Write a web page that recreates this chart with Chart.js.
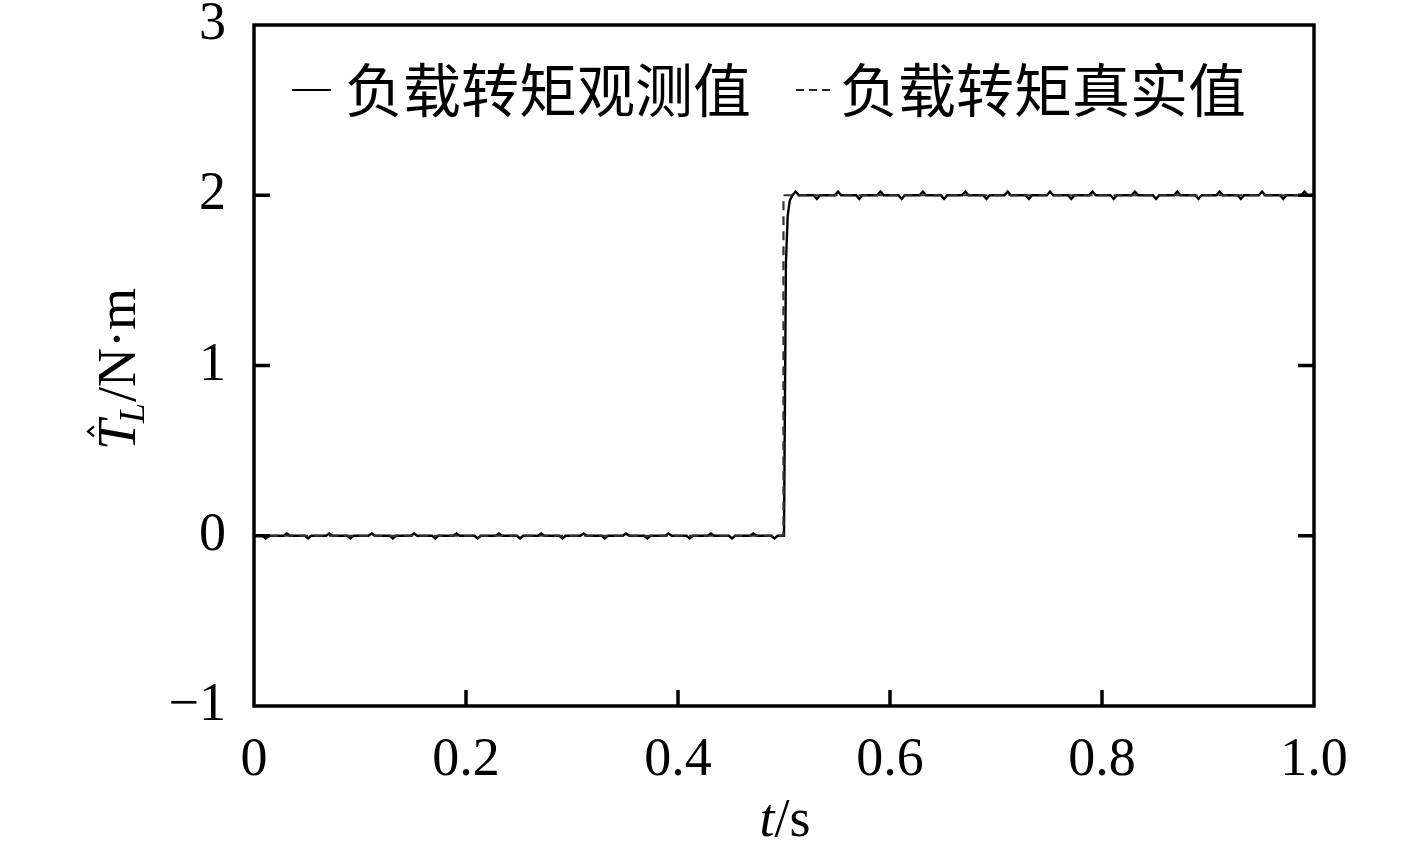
<!DOCTYPE html>
<html>
<head>
<meta charset="utf-8">
<script src="https://cdn.jsdelivr.net/npm/chart.js@4.4.1/dist/chart.umd.min.js"></script>
<style>
  html, body { margin: 0; padding: 0; background: #fff; }
  canvas { display: block; }
</style>
</head>
<body>
<canvas id="c" width="1417" height="857"></canvas>
<script>
const obsTime = [
  0,
  0.008, 0.011, 0.014, 0.028, 0.031, 0.034,
  0.048, 0.051, 0.054, 0.068, 0.071, 0.074,
  0.088, 0.091, 0.094, 0.108, 0.111, 0.114,
  0.128, 0.131, 0.134, 0.148, 0.151, 0.154,
  0.168, 0.171, 0.174, 0.188, 0.191, 0.194,
  0.208, 0.211, 0.214, 0.228, 0.231, 0.234,
  0.248, 0.251, 0.254, 0.268, 0.271, 0.274,
  0.288, 0.291, 0.294, 0.308, 0.311, 0.314,
  0.328, 0.331, 0.334, 0.348, 0.351, 0.354,
  0.368, 0.371, 0.374, 0.388, 0.391, 0.394,
  0.408, 0.411, 0.414, 0.428, 0.431, 0.434,
  0.448, 0.451, 0.454, 0.468, 0.471, 0.474,
  0.488, 0.491, 0.494, 0.500,
  0.5018, 0.5035, 0.5055, 0.508, 0.511, 0.514,
  0.528, 0.531, 0.534, 0.548, 0.551, 0.554,
  0.568, 0.571, 0.574, 0.588, 0.591, 0.594,
  0.608, 0.611, 0.614, 0.628, 0.631, 0.634,
  0.648, 0.651, 0.654, 0.668, 0.671, 0.674,
  0.688, 0.691, 0.694, 0.708, 0.711, 0.714,
  0.728, 0.731, 0.734, 0.748, 0.751, 0.754,
  0.768, 0.771, 0.774, 0.788, 0.791, 0.794,
  0.808, 0.811, 0.814, 0.828, 0.831, 0.834,
  0.848, 0.851, 0.854, 0.868, 0.871, 0.874,
  0.888, 0.891, 0.894, 0.908, 0.911, 0.914,
  0.928, 0.931, 0.934, 0.948, 0.951, 0.954,
  0.968, 0.971, 0.974, 0.988, 0.991, 0.994,
  1.0
];
const obsTorque = [
  0,
  0, -0.016, 0, 0, 0.013, 0,
  0, -0.016, 0, 0, 0.013, 0,
  0, -0.016, 0, 0, 0.013, 0,
  0, -0.016, 0, 0, 0.013, 0,
  0, -0.016, 0, 0, 0.013, 0,
  0, -0.016, 0, 0, 0.013, 0,
  0, -0.016, 0, 0, 0.013, 0,
  0, -0.016, 0, 0, 0.013, 0,
  0, -0.016, 0, 0, 0.013, 0,
  0, -0.016, 0, 0, 0.013, 0,
  0, -0.016, 0, 0, 0.013, 0,
  0, -0.016, 0, 0, 0.013, 0,
  0, -0.016, 0, 0,
  1.6, 1.88, 1.97, 2.0, 2.022, 2.0,
  2, 1.978, 2, 2, 2.022, 2,
  2, 1.978, 2, 2, 2.022, 2,
  2, 1.978, 2, 2, 2.022, 2,
  2, 1.978, 2, 2, 2.022, 2,
  2, 1.978, 2, 2, 2.022, 2,
  2, 1.978, 2, 2, 2.022, 2,
  2, 1.978, 2, 2, 2.022, 2,
  2, 1.978, 2, 2, 2.022, 2,
  2, 1.978, 2, 2, 2.022, 2,
  2, 1.978, 2, 2, 2.022, 2,
  2, 1.978, 2, 2, 2.022, 2,
  2, 1.978, 2, 2, 2.022, 2,
  2
];
// true load torque (dashed)
const refTime = [0, 0.4995, 0.4995, 1.0];
const refTorque = [0, 0, 2, 2];

const xTicks = [0, 0.2, 0.4, 0.6, 0.8, 1.0];
const yTicks = [-1, 0, 1, 2, 3];
const seriesNames = ['负载转矩观测值', '负载转矩真实值'];

const serif = '"Liberation Serif", "Times New Roman", serif';
const cjk = '"Noto Sans CJK SC", sans-serif';
const fs = 54;

function toPoints(xs, ys) {
  return xs.map((t, i) => ({ x: t, y: ys[i] }));
}

function line(ctx, x1, y1, x2, y2) {
  ctx.beginPath();
  ctx.moveTo(x1, y1);
  ctx.lineTo(x2, y2);
  ctx.stroke();
}

// frame, inward ticks, axis titles and legend
const decorPlugin = {
  id: 'decor',
  afterDraw(chart) {
    const ctx = chart.ctx;
    const a = chart.chartArea;
    const xs = chart.scales.x, ys = chart.scales.y;
    ctx.save();
    ctx.strokeStyle = '#000';
    ctx.lineWidth = 3.5;
    xTicks.forEach(v => {
      if (v <= 0 || v >= 1) return;
      const px = xs.getPixelForValue(v);
      line(ctx, px, a.bottom, px, a.bottom - 16);
    });
    yTicks.forEach(v => {
      if (v <= -1 || v >= 3) return;
      const py = ys.getPixelForValue(v);
      line(ctx, a.left, py, a.left + 16, py);
      line(ctx, a.right, py, a.right - 16, py);
    });
    ctx.strokeRect(a.left, a.top, a.right - a.left, a.bottom - a.top);

    ctx.fillStyle = '#000';
    ctx.textBaseline = 'alphabetic';

    // x title: t/s
    ctx.font = 'italic ' + fs + 'px ' + serif;
    const wt = ctx.measureText('t').width;
    ctx.font = fs + 'px ' + serif;
    const ws = ctx.measureText('/s').width;
    const sx = 785 - (wt + ws) / 2;
    ctx.font = 'italic ' + fs + 'px ' + serif;
    ctx.fillText('t', sx, 836);
    ctx.font = fs + 'px ' + serif;
    ctx.fillText('/s', sx + wt, 836);

    // y title: T-hat_L / N·m, rotated
    ctx.save();
    ctx.translate(135, 366);
    ctx.rotate(-Math.PI / 2);
    let rx = -84;
    ctx.font = 'italic ' + fs + 'px ' + serif;
    ctx.fillText('T', rx, 0);
    const wT = ctx.measureText('T').width;
    // hat over T
    const hc = rx + wT * 0.62;
    ctx.lineWidth = 2.2;
    ctx.beginPath();
    ctx.moveTo(hc - 5, -41);
    ctx.lineTo(hc, -47);
    ctx.lineTo(hc + 5, -41);
    ctx.stroke();
    rx += wT - 3;
    ctx.font = 'italic 36px ' + serif;
    ctx.fillText('L', rx, 9);
    rx += ctx.measureText('L').width + 1;
    ctx.font = fs + 'px ' + serif;
    ctx.fillText('/N\u00B7m', rx, 0);
    ctx.restore();

    // legend
    ctx.lineWidth = 2;
    line(ctx, 292, 90, 331, 90);
    ctx.setLineDash([8, 5]);
    ctx.strokeStyle = '#222';
    line(ctx, 796, 90, 834, 90);
    ctx.setLineDash([]);
    ctx.font = '58px ' + cjk;
    ctx.textBaseline = 'middle';
    ctx.fillText(seriesNames[0], 345, 90);
    ctx.fillText(seriesNames[1], 840, 90);
    ctx.restore();
  }
};

new Chart(document.getElementById('c'), {
  type: 'line',
  data: {
    datasets: [
      {
        label: seriesNames[1],
        data: toPoints(refTime, refTorque),
        borderColor: '#333',
        borderWidth: 2.2,
        borderDash: [9, 6],
        pointRadius: 0,
        tension: 0
      },
      {
        label: seriesNames[0],
        data: toPoints(obsTime, obsTorque),
        borderColor: '#000',
        borderWidth: 2.4,
        pointRadius: 0,
        tension: 0
      }
    ]
  },
  options: {
    responsive: false,
    animation: false,
    devicePixelRatio: 1,
    layout: { padding: { top: 25, right: 103, left: 0, bottom: 0 } },
    plugins: {
      legend: { display: false },
      title: { display: false },
      tooltip: { enabled: false }
    },
    scales: {
      x: {
        type: 'linear',
        min: 0,
        max: 1,
        afterFit: s => { s.height = 151; s.paddingLeft = 0; s.paddingRight = 0; },
        afterBuildTicks: s => { s.ticks = xTicks.map(v => ({ value: v })); },
        grid: { display: false, drawTicks: false },
        border: { display: false },
        ticks: {
          autoSkip: false,
          maxRotation: 0,
          padding: 22,
          color: '#000',
          font: { family: serif, size: fs },
          callback: v => (v === 0 ? '0' : v.toFixed(1))
        }
      },
      y: {
        type: 'linear',
        min: -1,
        max: 3,
        afterFit: s => { s.width = 254; s.paddingTop = 0; s.paddingBottom = 0; },
        afterBuildTicks: s => { s.ticks = yTicks.map(v => ({ value: v })); },
        grid: { display: false, drawTicks: false },
        border: { display: false },
        ticks: {
          padding: 28,
          color: '#000',
          font: { family: serif, size: fs },
          callback: v => (v < 0 ? '\u2212' + Math.abs(v) : String(v))
        }
      }
    }
  },
  plugins: [decorPlugin]
});
</script>
</body>
</html>
